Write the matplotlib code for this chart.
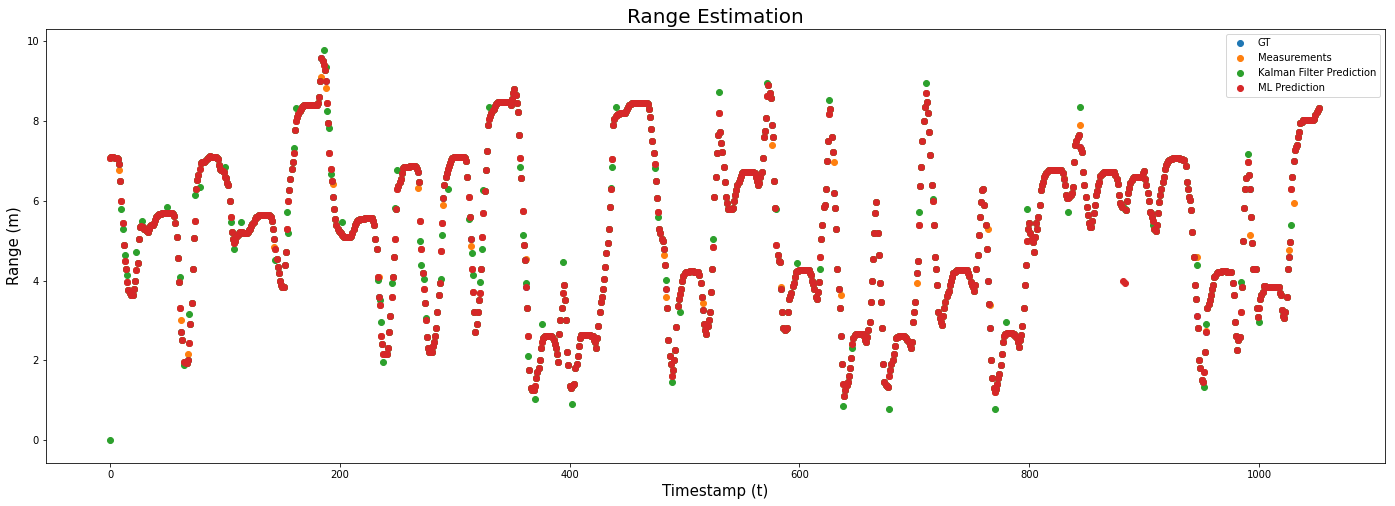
"""
Range estimation scatter: GT vs measurements vs Kalman filter vs ML
"""

import numpy as np
import matplotlib
matplotlib.use('Agg')
import matplotlib.pyplot as plt

# Ground-truth range (m), one value per timestamp starting at t=0
gt_range = [
    7.08, 7.1, 7.1, 7.09, 7.08, 7.07, 7.06, 7.05, 6.93, 6.5, 6.0, 5.45, 4.9, 4.5, 4.3, 3.97, 3.76, 3.68, 3.65, 3.64,
    3.65, 3.8, 4.0, 4.26, 4.44, 5.04, 5.35, 5.36, 5.35, 5.33, 5.3, 5.27, 5.24, 5.22, 5.3, 5.36, 5.39, 5.4, 5.45, 5.52,
    5.6, 5.62, 5.64, 5.66, 5.67, 5.68, 5.68, 5.68, 5.68, 5.69, 5.7, 5.7, 5.7, 5.69, 5.68, 5.66, 5.62, 5.45, 5.08, 4.57,
    3.97, 3.3, 2.7, 2.51, 1.97, 1.95, 1.93, 1.94, 2.0, 2.43, 2.9, 3.43, 4.3, 5.07, 5.5, 6.29, 6.52, 6.65, 6.8, 6.95,
    6.98, 6.98, 6.98, 7.0, 7.05, 7.08, 7.1, 7.12, 7.1, 7.1, 7.1, 7.1, 7.1, 7.08, 7.05, 6.9, 6.8, 6.77, 6.74, 6.72,
    6.6, 6.56, 6.45, 6.39, 6.0, 5.6, 5.22, 5.05, 4.95, 5.0, 5.1, 5.15, 5.2, 5.22, 5.22, 5.21, 5.2, 5.19, 5.18, 5.18,
    5.22, 5.26, 5.3, 5.36, 5.42, 5.47, 5.55, 5.58, 5.6, 5.62, 5.64, 5.65, 5.65, 5.65, 5.65, 5.65, 5.64, 5.64, 5.64, 5.62,
    5.6, 5.5, 5.3, 5.05, 4.8, 4.55, 4.35, 4.18, 4.0, 3.9, 3.84, 3.84, 4.4, 4.72, 5.3, 6.0, 6.27, 6.55, 6.8, 6.96,
    7.2, 7.77, 8.0, 8.1, 8.17, 8.25, 8.3, 8.35, 8.38, 8.4, 8.4, 8.4, 8.4, 8.4, 8.4, 8.4, 8.4, 8.4, 8.4, 8.4,
    8.4, 8.45, 8.6, 9.0, 9.57, 9.5, 9.4, 9.27, 9.0, 8.44, 7.94, 7.2, 6.8, 6.5, 6.1, 5.8, 5.55, 5.4, 5.3, 5.25,
    5.22, 5.18, 5.15, 5.12, 5.1, 5.1, 5.1, 5.1, 5.1, 5.1, 5.12, 5.2, 5.3, 5.39, 5.45, 5.49, 5.51, 5.52, 5.53, 5.54,
    5.55, 5.55, 5.56, 5.56, 5.56, 5.56, 5.56, 5.56, 5.56, 5.5, 5.4, 5.04, 4.8, 4.1, 3.6, 3.38, 2.6, 2.4, 2.17, 2.17,
    2.15, 2.16, 2.3, 2.7, 3.1, 3.6, 4.1, 4.6, 5.05, 5.8, 6.3, 6.38, 6.46, 6.55, 6.7, 6.82, 6.85, 6.85, 6.85, 6.85,
    6.85, 6.86, 6.86, 6.86, 6.86, 6.86, 6.85, 6.8, 6.72, 6.47, 5.5, 4.8, 4.2, 3.8, 3.43, 3.0, 2.59, 2.3, 2.2, 2.2,
    2.22, 2.35, 2.45, 2.6, 2.8, 3.2, 3.65, 3.93, 4.75, 5.43, 6.06, 6.4, 6.6, 6.7, 6.8, 6.88, 6.95, 7.02, 7.08, 7.1,
    7.1, 7.1, 7.1, 7.1, 7.1, 7.1, 7.1, 7.1, 7.1, 7.08, 7.0, 6.6, 6.1, 5.6, 5.04, 4.3, 3.72, 3.2, 2.72, 2.9,
    3.2, 3.5, 3.7, 4.3, 5.1, 5.7, 6.25, 6.77, 7.25, 7.89, 8.05, 8.12, 8.2, 8.26, 8.3, 8.36, 8.42, 8.45, 8.47, 8.48,
    8.48, 8.48, 8.48, 8.48, 8.48, 8.48, 8.48, 8.47, 8.45, 8.4, 8.55, 8.69, 8.8, 8.65, 8.45, 8.23, 7.64, 7.06, 6.56, 5.74,
    4.9, 4.51, 3.85, 3.32, 2.6, 1.75, 1.3, 1.25, 1.25, 1.26, 1.35, 1.55, 1.7, 1.81, 2.0, 2.3, 2.45, 2.55, 2.59, 2.6,
    2.6, 2.6, 2.6, 2.6, 2.6, 2.58, 2.5, 2.42, 2.3, 2.15, 1.96, 2.67, 3.0, 3.3, 3.7, 3.9, 3.5, 3.0, 2.2, 1.88,
    1.35, 1.32, 1.35, 1.38, 1.4, 1.8, 1.92, 2.1, 2.35, 2.55, 2.63, 2.63, 2.63, 2.63, 2.63, 2.63, 2.63, 2.63, 2.63, 2.62,
    2.6, 2.5, 2.45, 2.3, 2.55, 2.85, 3.22, 3.45, 3.6, 3.8, 4.05, 4.34, 4.7, 4.95, 5.3, 5.85, 6.3, 7.04, 7.9, 8.05,
    8.12, 8.15, 8.17, 8.18, 8.19, 8.19, 8.19, 8.19, 8.2, 8.25, 8.3, 8.35, 8.4, 8.42, 8.44, 8.44, 8.44, 8.44, 8.44, 8.44,
    8.45, 8.45, 8.45, 8.45, 8.44, 8.44, 8.44, 8.44, 8.42, 8.3, 8.1, 7.8, 7.5, 7.2, 6.93, 6.5, 6.06, 5.72, 5.3, 5.2,
    5.05, 4.98, 4.8, 4.4, 3.8, 3.3, 2.5, 2.1, 1.9, 1.6, 1.75, 2.0, 2.25, 2.84, 3.35, 3.55, 3.66, 3.8, 4.0, 4.12,
    4.2, 4.22, 4.22, 4.22, 4.22, 4.23, 4.23, 4.23, 4.22, 4.22, 4.22, 4.22, 4.22, 4.15, 3.95, 3.6, 3.26, 2.92, 2.75, 2.67,
    2.85, 3.0, 3.2, 3.72, 4.3, 4.85, 6.1, 6.6, 7.2, 7.64, 8.2, 7.73, 7.45, 7.23, 6.85, 6.47, 6.1, 5.95, 5.8, 5.8,
    5.8, 5.8, 5.82, 6.0, 6.15, 6.27, 6.4, 6.48, 6.55, 6.62, 6.7, 6.72, 6.72, 6.72, 6.72, 6.72, 6.72, 6.72, 6.72, 6.72,
    6.72, 6.7, 6.6, 6.5, 6.4, 6.45, 6.6, 6.72, 7.06, 7.6, 7.75, 8.06, 8.62, 8.9, 8.7, 8.56, 7.9, 7.6, 6.5, 5.81,
    4.9, 4.64, 4.5, 4.47, 3.8, 3.22, 2.8, 2.76, 2.78, 2.8, 3.2, 3.55, 3.62, 3.68, 3.86, 3.95, 4.1, 4.22, 4.24, 4.25,
    4.26, 4.26, 4.27, 4.27, 4.27, 4.27, 4.26, 4.26, 4.26, 4.2, 4.14, 4.0, 3.92, 3.8, 3.6, 3.55, 3.72, 3.97, 4.6, 5.05,
    5.4, 5.85, 5.9, 6.3, 7.0, 7.5, 8.16, 8.3, 7.6, 7.23, 6.2, 5.81, 5.3, 4.3, 3.8, 3.3, 2.6, 1.92, 1.4, 1.1,
    1.25, 1.38, 1.47, 1.6, 1.8, 2.05, 2.4, 2.55, 2.64, 2.66, 2.67, 2.67, 2.67, 2.67, 2.67, 2.67, 2.6, 2.5, 2.46, 2.59,
    2.75, 2.97, 3.45, 4.0, 4.55, 5.18, 5.68, 5.97, 5.2, 4.64, 3.95, 3.47, 2.8, 1.92, 1.45, 1.38, 1.36, 1.34, 1.6, 1.75,
    1.9, 2.0, 2.15, 2.35, 2.55, 2.59, 2.59, 2.6, 2.6, 2.6, 2.6, 2.6, 2.59, 2.56, 2.52, 2.45, 2.38, 2.3, 2.45, 2.97,
    3.2, 3.47, 4.18, 4.49, 5.4, 6.37, 6.85, 7.5, 8.0, 8.35, 8.7, 8.48, 8.2, 7.73, 7.14, 6.39, 6.0, 5.39, 4.6, 4.3,
    3.9, 3.22, 3.05, 2.97, 2.88, 3.1, 3.3, 3.47, 3.62, 3.7, 3.75, 3.9, 3.98, 4.1, 4.18, 4.22, 4.25, 4.26, 4.26, 4.26,
    4.27, 4.27, 4.27, 4.27, 4.26, 4.26, 4.26, 4.2, 4.12, 3.97, 3.9, 3.84, 3.74, 3.9, 4.3, 4.64, 5.15, 5.6, 5.97, 6.27,
    6.3, 5.9, 5.4, 4.8, 4.0, 3.4, 2.8, 2.0, 1.55, 1.3, 1.2, 1.29, 1.42, 1.55, 1.67, 1.88, 2.15, 2.45, 2.6, 2.66,
    2.67, 2.68, 2.68, 2.68, 2.68, 2.68, 2.67, 2.67, 2.6, 2.55, 2.45, 2.34, 2.5, 2.63, 2.85, 3.3, 3.9, 4.4, 5.0, 5.3,
    5.45, 5.2, 5.05, 4.97, 4.72, 5.1, 5.45, 5.3, 5.6, 5.9, 6.27, 6.4, 6.48, 6.6, 6.65, 6.7, 6.75, 6.77, 6.77, 6.77,
    6.77, 6.77, 6.78, 6.78, 6.78, 6.78, 6.77, 6.77, 6.77, 6.7, 6.55, 6.4, 6.15, 6.06, 6.06, 6.1, 6.14, 6.2, 6.35, 6.98,
    7.4, 7.5, 7.6, 7.64, 7.35, 7.3, 7.23, 6.72, 6.4, 6.1, 5.85, 5.64, 5.45, 5.35, 5.35, 5.5, 5.7, 5.9, 6.15, 6.25,
    6.4, 6.47, 6.62, 6.66, 6.7, 6.72, 6.72, 6.72, 6.72, 6.72, 6.72, 6.72, 6.72, 6.72, 6.72, 6.65, 6.55, 6.43, 6.14, 5.95,
    5.9, 5.85, 5.85, 5.8, 5.76, 6.0, 6.2, 6.31, 6.45, 6.52, 6.57, 6.6, 6.6, 6.6, 6.6, 6.6, 6.6, 6.6, 6.62, 6.7,
    6.75, 6.55, 6.4, 6.2, 6.0, 5.72, 5.68, 5.6, 5.5, 5.3, 5.25, 5.4, 5.7, 5.97, 6.15, 6.3, 6.47, 6.6, 6.8, 6.9,
    6.95, 7.0, 7.02, 7.04, 7.05, 7.06, 7.06, 7.06, 7.06, 7.06, 7.06, 7.05, 7.05, 7.04, 7.03, 7.02, 6.88, 6.47, 6.3, 6.1,
    6.02, 5.76, 5.22, 4.6, 3.9, 3.55, 3.1, 2.8, 2.0, 1.8, 1.5, 1.46, 1.7, 2.2, 2.7, 3.3, 3.42, 3.5, 3.63, 3.8,
    3.9, 4.09, 4.12, 4.2, 4.22, 4.22, 4.22, 4.22, 4.23, 4.23, 4.23, 4.23, 4.22, 4.22, 4.22, 4.22, 4.22, 3.93, 3.63, 2.97,
    2.6, 2.26, 2.5, 2.59, 3.22, 3.84, 5.0, 5.81, 6.3, 6.56, 6.98, 6.64, 6.3, 5.6, 4.95, 4.3, 4.3, 4.3, 3.3, 3.09,
    3.3, 3.55, 3.65, 3.72, 3.86, 3.86, 3.84, 3.84, 3.85, 3.85, 3.85, 3.85, 3.84, 3.84, 3.84, 3.84, 3.84, 3.84, 3.7, 3.63,
    3.25, 3.1, 3.05, 3.22, 3.6, 4.3, 4.6, 4.97, 6.3, 6.6, 7.0, 7.27, 7.35, 7.39, 7.6, 7.73, 7.95, 7.98, 8.02, 8.02,
    8.02, 8.02, 8.03, 8.03, 8.03, 8.03, 8.02, 8.02, 8.05, 8.15, 8.22, 8.27, 8.33,
]

# Timestamps where a series departs from GT -> value
meas_diff = {
    8: 6.77, 62: 3.0, 68: 2.17, 143: 4.85, 152: 4.39, 184: 9.1, 188: 8.81,
    194: 6.43, 234: 4.1, 268: 6.31, 290: 5.89, 314: 4.87, 362: 4.55,
    363: 3.3, 482: 4.64, 484: 3.6, 516: 3.43, 576: 7.39, 584: 3.84,
    630: 6.96, 636: 3.63, 702: 3.93, 764: 5.3, 766: 3.38, 830: 6.56,
    844: 7.89, 946: 4.6, 954: 2.74, 992: 5.14, 1026: 4.76, 1030: 5.93,
}
kf_diff = {
    0: 0.0, 10: 5.8, 11: 5.29, 13: 4.64, 15: 4.14, 23: 4.72, 28: 5.5,
    50: 5.85, 61: 4.1, 64: 1.88, 69: 3.15, 74: 6.14, 78: 6.35, 100: 6.85,
    105: 5.47, 108: 4.8, 114: 5.47, 144: 4.51, 154: 5.72, 155: 5.18,
    160: 7.31, 162: 8.31, 186: 9.77, 188: 9.36, 189: 8.25, 191: 7.81,
    192: 6.66, 202: 5.47, 233: 4.01, 235: 3.51, 236: 2.97, 238: 1.96,
    245: 3.93, 248: 5.81, 250: 6.77, 270: 4.99, 271: 4.4, 273: 4.03,
    275: 3.05, 288: 4.05, 289: 5.15, 294: 6.3, 312: 5.55, 315: 4.7,
    316: 4.14, 322: 3.97, 324: 4.8, 325: 6.27, 330: 8.35, 357: 6.85,
    359: 5.15, 362: 3.95, 364: 2.11, 370: 1.03, 376: 2.92, 394: 4.47,
    402: 0.92, 436: 6.32, 437: 6.85, 440: 8.35, 474: 6.81, 477: 5.6,
    484: 4.01, 486: 2.51, 489: 1.46, 496: 3.22, 525: 5.05, 530: 8.73,
    572: 8.96, 580: 5.8, 598: 4.43, 618: 4.3, 626: 8.52, 638: 0.86,
    646: 2.3, 678: 0.78, 704: 5.71, 710: 8.94, 716: 6.03, 770: 0.79,
    780: 2.95, 798: 5.79, 834: 5.72, 844: 8.35, 908: 5.39, 946: 4.39,
    952: 1.34, 954: 2.92, 984: 3.97, 990: 7.17, 1000: 2.97, 1028: 5.39,
}
ml_diff = {882: 4.0, 883: 3.95}

series_names = ['GT', 'Measurements', 'Kalman Filter Prediction', 'ML Prediction']


def with_diff(base, diff):
    """Copy of the GT series with the read-off departures put in"""
    out = np.array(base, dtype=float)
    for t, v in diff.items():
        out[t] = v
    return out


t = np.arange(len(gt_range))
gt = np.array(gt_range)
meas = with_diff(gt_range, meas_diff)
kf = with_diff(gt_range, kf_diff)
ml = with_diff(gt_range, ml_diff)

W, H, DPI = 1395, 506, 72
fig = plt.figure(figsize=(W / DPI, H / DPI), dpi=DPI)
ax = fig.add_axes([46 / W, 1 - 463 / H, (1385 - 46) / W, (463 - 29) / H])

for y, name in zip([gt, meas, kf, ml], series_names):
    ax.scatter(t, y, label=name)

ax.set_xlim(-55.7, 1109.6)
ax.set_ylim(-0.57, 10.3)
ax.set_title('Range Estimation', fontsize=20)
ax.set_xlabel('Timestamp (t)', fontsize=15)
ax.set_ylabel('Range (m)', fontsize=15)
ax.legend(loc='upper right')

plt.savefig('out.png', dpi=DPI)
